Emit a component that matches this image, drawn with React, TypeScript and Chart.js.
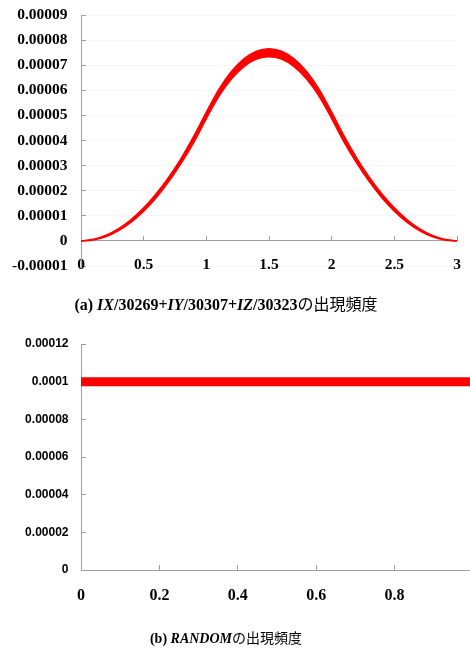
import React, { useEffect, useRef } from 'react';
import { Chart, registerables } from 'chart.js';

Chart.register(...registerables);

// ---------- (a) IX/30269+IY/30307+IZ/30323 ----------
const sumX = [0, 0.1, 0.2, 0.3, 0.4, 0.5, 0.6, 0.7, 0.8, 0.9, 1.0, 1.1, 1.2, 1.3, 1.4, 1.5,
  1.6, 1.7, 1.8, 1.9, 2.0, 2.1, 2.2, 2.3, 2.4, 2.5, 2.6, 2.7, 2.8, 2.9, 3.0];
const sumFreq = [0, 0.0000005, 0.000002, 0.0000045, 0.000008, 0.0000125, 0.000018, 0.0000245,
  0.000032, 0.0000405, 0.00005, 0.000059, 0.000066, 0.000071, 0.000074, 0.000075,
  0.000074, 0.000071, 0.000066, 0.000059, 0.00005, 0.0000405, 0.000032, 0.0000245,
  0.000018, 0.0000125, 0.000008, 0.0000045, 0.000002, 0.0000005, 0];
const sumNoise = [0, 0.00000013, 0.00000026, 0.00000039, 0.00000052, 0.00000065, 0.00000078,
  0.0000009, 0.000001, 0.0000012, 0.0000013, 0.0000014, 0.0000015, 0.00000155, 0.0000016,
  0.0000016, 0.0000016, 0.00000155, 0.0000015, 0.0000014, 0.0000013, 0.0000012, 0.000001,
  0.0000009, 0.00000078, 0.00000065, 0.00000052, 0.00000039, 0.00000026, 0.00000013, 0];
const sumXTickValues = [0, 0.5, 1, 1.5, 2, 2.5, 3];
const sumXTickLabels = ['0', '0.5', '1', '1.5', '2', '2.5', '3'];
const sumYTickValues = [-0.00001, 0, 0.00001, 0.00002, 0.00003, 0.00004, 0.00005, 0.00006, 0.00007, 0.00008, 0.00009];
const sumYTickLabels = ['-0.00001', '0', '0.00001', '0.00002', '0.00003', '0.00004', '0.00005', '0.00006', '0.00007', '0.00008', '0.00009'];

// ---------- (b) RANDOM ----------
const randX = [0, 0.1, 0.2, 0.3, 0.4, 0.5, 0.6, 0.7, 0.8, 0.9, 1.0];
const randFreq = [0.0001, 0.0001, 0.0001, 0.0001, 0.0001, 0.0001, 0.0001, 0.0001, 0.0001, 0.0001, 0.0001];
const randNoise = [0.000002, 0.000002, 0.000002, 0.000002, 0.000002, 0.000002, 0.000002, 0.000002, 0.000002, 0.000002, 0.000002];
const randXTickValues = [0, 0.2, 0.4, 0.6, 0.8, 1];
const randXTickLabels = ['0', '0.2', '0.4', '0.6', '0.8', '1'];
const randYTickValues = [0, 0.00002, 0.00004, 0.00006, 0.00008, 0.0001, 0.00012];
const randYTickLabels = ['0', '0.00002', '0.00004', '0.00006', '0.00008', '0.0001', '0.00012'];

const RED = '#ff0000';
const AXIS = '#a0a0a0';
const SERIF = '"Liberation Serif", "Times New Roman", serif';
const SANS = '"Liberation Sans", Arial, sans-serif';

function bandDatasets(xs: number[], ys: number[], noise: number[]) {
  const upper = xs.map((x, i) => ({ x, y: ys[i] + noise[i] }));
  const lower = xs.map((x, i) => ({ x, y: ys[i] - noise[i] }));
  return [
    {
      data: upper, borderColor: RED, borderWidth: 1.5, pointRadius: 0, fill: false,
      cubicInterpolationMode: 'monotone' as const,
    },
    {
      data: lower, borderColor: RED, borderWidth: 1.5, pointRadius: 0, fill: '-1',
      backgroundColor: RED, cubicInterpolationMode: 'monotone' as const,
    },
  ];
}

function setTicks(values: number[]) {
  return (scale: any) => {
    scale.ticks = values.map((v) => ({ value: v }));
  };
}

function noPad(scale: any, size?: { width?: number; height?: number }) {
  scale.paddingTop = 0;
  scale.paddingBottom = 0;
  scale.paddingLeft = 0;
  scale.paddingRight = 0;
  if (size && size.width !== undefined) scale.width = size.width;
  if (size && size.height !== undefined) scale.height = size.height;
}

function TopChart() {
  const ref = useRef<HTMLCanvasElement>(null);
  useEffect(() => {
    const chart = new Chart(ref.current!, {
      type: 'line',
      data: { datasets: bandDatasets(sumX, sumFreq, sumNoise) as any },
      options: {
        animation: false,
        responsive: false,
        layout: { padding: { top: 15, right: 13, bottom: 19, left: 0 } },
        plugins: { legend: { display: false }, tooltip: { enabled: false } },
        scales: {
          x: {
            type: 'linear',
            min: 0,
            max: 3,
            position: { y: 0 } as any,
            afterBuildTicks: setTicks(sumXTickValues),
            afterFit: (s: any) => noPad(s),
            border: { color: AXIS, width: 1 },
            grid: { drawOnChartArea: false, drawTicks: true, tickLength: -5, tickColor: AXIS },
            ticks: {
              autoSkip: false, maxRotation: 0, padding: 20, color: '#000',
              font: { family: SERIF, size: 15.5, weight: 'bold' },
              callback: (_v: any, i: number) => sumXTickLabels[i],
            },
          },
          y: {
            type: 'linear',
            min: -0.00001,
            max: 0.00009,
            afterBuildTicks: setTicks(sumYTickValues),
            afterFit: (s: any) => noPad(s, { width: 81 }),
            border: { color: AXIS, width: 1 },
            grid: { color: 'rgba(0,0,0,0.035)', drawTicks: true, tickLength: -5, tickColor: AXIS },
            ticks: {
              autoSkip: false, padding: 18.5, color: '#000',
              font: { family: SERIF, size: 15.5, weight: 'bold' },
              callback: (_v: any, i: number) => sumYTickLabels[i],
            },
          },
        },
      },
    });
    return () => chart.destroy();
  }, []);
  return <canvas ref={ref} width={470} height={285} style={{ position: 'absolute', left: 0, top: 0 }} />;
}

function BottomChart() {
  const ref = useRef<HTMLCanvasElement>(null);
  useEffect(() => {
    const chart = new Chart(ref.current!, {
      type: 'line',
      data: { datasets: bandDatasets(randX, randFreq, randNoise) as any },
      options: {
        animation: false,
        responsive: false,
        layout: { padding: { top: 44, right: 13, bottom: 0, left: 0 } },
        plugins: { legend: { display: false }, tooltip: { enabled: false } },
        scales: {
          x: {
            type: 'linear',
            min: 0,
            max: 1,
            position: 'bottom',
            afterBuildTicks: setTicks(randXTickValues),
            afterFit: (s: any) => noPad(s, { height: 78 }),
            border: { color: AXIS, width: 1 },
            grid: { drawOnChartArea: false, drawTicks: true, tickLength: -5, tickColor: AXIS },
            ticks: {
              autoSkip: false, maxRotation: 0, padding: 21, color: '#000',
              font: { family: SERIF, size: 16, weight: 'bold' },
              callback: (_v: any, i: number) => randXTickLabels[i],
            },
          },
          y: {
            type: 'linear',
            min: 0,
            max: 0.00012,
            afterBuildTicks: setTicks(randYTickValues),
            afterFit: (s: any) => noPad(s, { width: 81 }),
            border: { color: AXIS, width: 1 },
            grid: { drawOnChartArea: false, drawTicks: true, tickLength: -5, tickColor: AXIS },
            ticks: {
              autoSkip: false, padding: 17.5, color: '#000',
              font: { family: SANS, size: 12, weight: 'bold' },
              callback: (_v: any, i: number) => randYTickLabels[i],
            },
          },
        },
      },
    });
    return () => chart.destroy();
  }, []);
  return <canvas ref={ref} width={486} height={348} style={{ position: 'absolute', left: 0, top: 300 }} />;
}

const bold: React.CSSProperties = { fontWeight: 'bold' };
const boldItalic: React.CSSProperties = { fontWeight: 'bold', fontStyle: 'italic' };
const jp: React.CSSProperties = { fontWeight: 'normal', fontFamily: '"Noto Sans CJK JP", sans-serif' };

export default function App() {
  return (
    <div style={{ position: 'fixed', left: 0, top: 0, width: 470, height: 648, overflow: 'hidden', background: '#fff' }}>
      <TopChart />
      <BottomChart />
      <div style={{ position: 'absolute', left: 0, width: 452, top: 293, height: 20, lineHeight: '20px', fontSize: 16, fontFamily: SERIF, textAlign: 'center', color: '#000', whiteSpace: 'nowrap' }}>
        <span style={bold}>(a) </span>
        <span style={boldItalic}>IX</span><span style={bold}>/30269+</span>
        <span style={boldItalic}>IY</span><span style={bold}>/30307+</span>
        <span style={boldItalic}>IZ</span><span style={bold}>/30323</span>
        <span style={jp}>の出現頻度</span>
      </div>
      <div style={{ position: 'absolute', left: 0, width: 452, top: 628, height: 18, lineHeight: '18px', fontSize: 14, fontFamily: SERIF, textAlign: 'center', color: '#000', whiteSpace: 'nowrap' }}>
        <span style={bold}>(b)</span><span style={boldItalic}> RANDOM</span>
        <span style={jp}>の出現頻度</span>
      </div>
    </div>
  );
}
